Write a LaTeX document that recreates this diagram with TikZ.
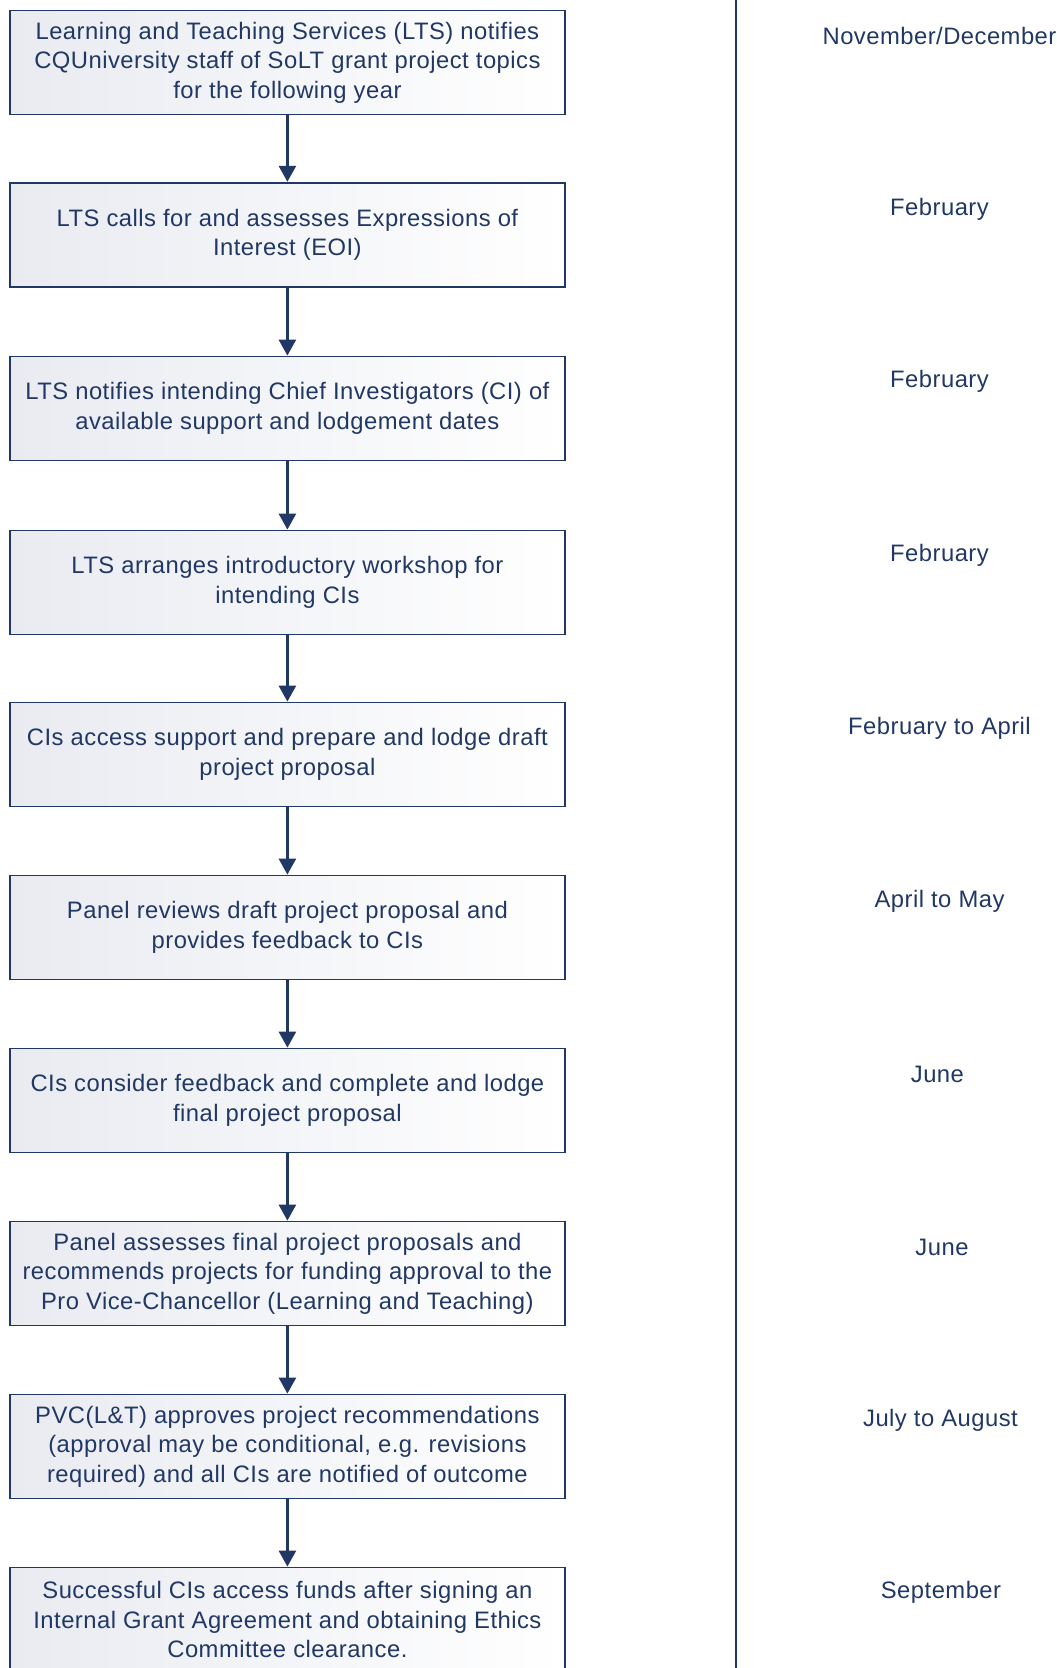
\documentclass[tikz,border=0pt]{standalone}
\usepackage{fontspec}
\setmainfont[LetterSpace=2]{Liberation Sans}
\usetikzlibrary{arrows.meta}
\definecolor{navy}{RGB}{33,56,100}
\definecolor{boxgray}{RGB}{233,235,241}
\tikzset{
  stepbox/.style={draw=navy, line width=1.8pt, left color=boxgray, right color=white,
    minimum width=555pt, minimum height=104pt, anchor=north west, inner sep=0pt,
    align=center, text=navy, font=\fontsize{23.8}{29.6}\selectfont},
  datelabel/.style={text=navy, font=\fontsize{23.8}{29.6}\selectfont, inner sep=0pt},
  flowarrow/.style={draw=navy, line width=2.7pt, -{Triangle[width=17pt,length=16pt]}}
}
\begin{document}
\begin{tikzpicture}[x=1pt,y=-1pt]
\useasboundingbox (0,0) rectangle (1057,1668);
\clip (0,0) rectangle (1057,1668);
\node[stepbox] (b1) at (9,9.6) {Learning and Teaching Services (LTS) notifies\\CQUniversity staff of SoLT grant project topics\\for the following year};
\node[stepbox] (b2) at (9,181.8) {LTS calls for and assesses Expressions of\\Interest (EOI)};
\node[stepbox] (b3) at (9,355.6) {LTS notifies intending Chief Investigators (CI) of\\available support and lodgement dates};
\node[stepbox] (b4) at (9,529.6) {LTS arranges introductory workshop for\\intending CIs};
\node[stepbox] (b5) at (9,701.6) {CIs access support and prepare and lodge draft\\project proposal};
\node[stepbox] (b6) at (9,874.6) {Panel reviews draft project proposal and\\provides feedback to CIs};
\node[stepbox] (b7) at (9,1047.6) {CIs consider feedback and complete and lodge\\final project proposal};
\node[stepbox] (b8) at (9,1220.6) {Panel assesses final project proposals and\\recommends projects for funding approval to the\\Pro Vice-Chancellor (Learning and Teaching)};
\node[stepbox] (b9) at (9,1393.6) {PVC(L\&T) approves project recommendations\\(approval may be conditional, e.g. revisions\\required) and all CIs are notified of outcome};
\node[stepbox] (b10) at (9,1566.6) {Successful CIs access funds after signing an\\Internal Grant Agreement and obtaining Ethics\\Committee clearance.};
\foreach \a/\b in {b1/b2,b2/b3,b3/b4,b4/b5,b5/b6,b6/b7,b7/b8,b8/b9,b9/b10}
  \draw[flowarrow] (\a.south) -- (\b.north);
\coordinate (vtop) at (736,0);
\coordinate (vbot) at (736,1668);
\draw[navy, line width=2.3pt] (vtop) -- (vbot);
\node[datelabel] (d1) at (939.5,35.5) {November/December};
\node[datelabel] (d2) at (939.5,209) {February};
\node[datelabel] (d3) at (939.5,381.5) {February};
\node[datelabel] (d4) at (939.5,555) {February};
\node[datelabel] (d5) at (939.5,728) {February to April};
\node[datelabel] (d6) at (939.5,901.5) {April to May};
\node[datelabel] (d7) at (937.4,1074) {June};
\node[datelabel] (d8) at (942,1247) {June};
\node[datelabel] (d9) at (940.5,1420.5) {July to August};
\node[datelabel] (d10) at (941,1592.5) {September};
\end{tikzpicture}
\end{document}
